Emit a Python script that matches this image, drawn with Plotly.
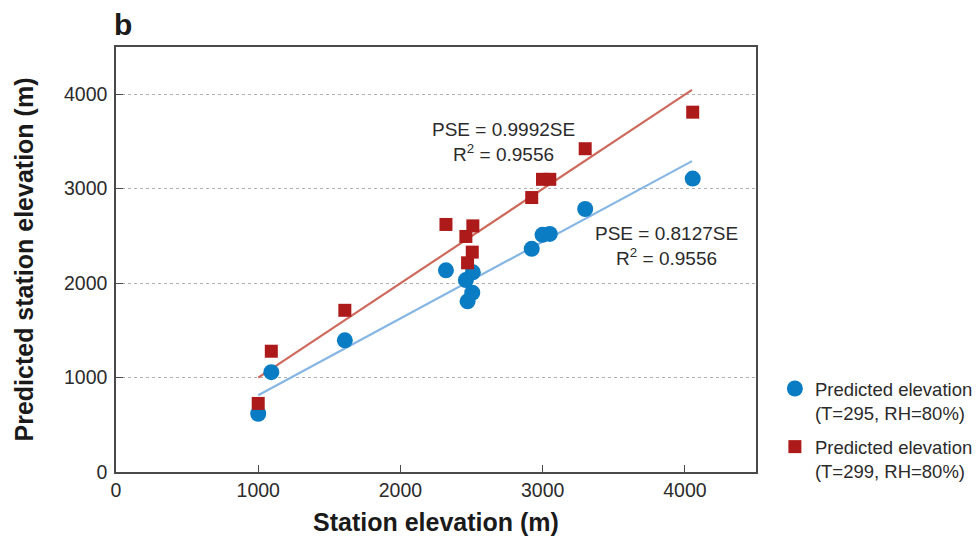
import plotly.graph_objects as go

# Station elevations (m) and predicted elevations for the two model settings
station_elev = [1000, 1092, 1609, 2320, 2460, 2472, 2505, 2509, 2923, 2999, 3050, 3299, 4055]
pred_t295 = [617, 1057, 1394, 2135, 2032, 1807, 1898, 2114, 2363, 2511, 2521, 2785, 3107]
pred_t299 = [726, 1279, 1712, 2621, 2494, 2215, 2328, 2606, 2906, 3099, 3099, 3423, 3810]

# Fitted slopes (through origin) and coefficient of determination
slope_t295 = 0.8127
slope_t299 = 0.9992
r2_t295 = 0.9556
r2_t299 = 0.9556

tick_vals = [0, 1000, 2000, 3000, 4000]
fit_x = [1000, 4050]

FONT = "Liberation Sans, Arial, Helvetica, sans-serif"
TEXT = "#2b2b2b"
AXIS = "#4a4a4a"
TITLE = "#1a1a1a"

fig = go.Figure()

fig.add_trace(go.Scatter(
    x=fit_x, y=[slope_t295 * v for v in fit_x], mode="lines",
    line=dict(color="#86b6e4", width=2.2), showlegend=False, hoverinfo="skip"))
fig.add_trace(go.Scatter(
    x=fit_x, y=[slope_t299 * v for v in fit_x], mode="lines",
    line=dict(color="#cd6a5c", width=2.2), showlegend=False, hoverinfo="skip"))

fig.add_trace(go.Scatter(
    x=station_elev, y=pred_t295, mode="markers", legendgroup="t295",
    name="Predicted elevation<br>(T=295, RH=80%)",
    marker=dict(symbol="circle", size=16, color="#0a7cc4", line=dict(width=0))))
fig.add_trace(go.Scatter(
    x=station_elev, y=pred_t299, mode="markers", legendgroup="t299",
    name="Predicted elevation<br>(T=299, RH=80%)",
    marker=dict(symbol="square", size=13, color="#ad1a1a", line=dict(width=0))))

fig.add_annotation(x=2722, y=3490, xref="x", yref="y", showarrow=False, align="center",
                   text=f"PSE = {slope_t299:.4f}SE<br>R<sup>2</sup> = {r2_t299:.4f}",
                   font=dict(family=FONT, size=19, color=TEXT))
fig.add_annotation(x=3868, y=2392, xref="x", yref="y", showarrow=False, align="center",
                   text=f"PSE = {slope_t295:.4f}SE<br>R<sup>2</sup> = {r2_t295:.4f}",
                   font=dict(family=FONT, size=19, color=TEXT))

# Panel letter
fig.add_annotation(x=0, y=1, xref="paper", yref="paper", xanchor="left", yanchor="bottom",
                   xshift=-4, yshift=4, showarrow=False, text="<b>b</b>",
                   font=dict(family=FONT, size=30, color=TITLE))

# Axis titles
fig.add_annotation(x=0.5, y=0, xref="paper", yref="paper", xanchor="center", yanchor="middle",
                   yshift=-50, showarrow=False, text="<b>Station elevation (m)</b>",
                   font=dict(family=FONT, size=25, color=TITLE))
fig.add_annotation(x=0, y=0.5, xref="paper", yref="paper", xanchor="center", yanchor="middle",
                   xshift=-93, textangle=-90, showarrow=False,
                   text="<b>Predicted station elevation (m)</b>",
                   font=dict(family=FONT, size=25, color=TITLE))

axis_common = dict(
    tickvals=tick_vals, ticks="inside", ticklen=7, tickwidth=1.2, tickcolor=AXIS,
    showline=True, linecolor=AXIS, linewidth=1.5, mirror=True, zeroline=False,
    automargin=False, tickfont=dict(family=FONT, size=19.5, color=TEXT),
)

fig.update_xaxes(range=[0, 4500], showgrid=False, **axis_common)
fig.update_yaxes(range=[0, 4500], showgrid=True, gridcolor="#b0b0b0", griddash="dot", gridwidth=1,
                 ticklabelstandoff=3, **axis_common)

fig.update_layout(
    width=978, height=536,
    margin=dict(l=116, r=222, t=47, b=64, autoexpand=False),
    plot_bgcolor="white", paper_bgcolor="white",
    font=dict(family=FONT, color=TEXT),
    legend=dict(x=1.0295, xanchor="left", y=0.24, yanchor="top", valign="top",
                traceorder="grouped", tracegroupgap=7,
                font=dict(family=FONT, size=18.5, color=TEXT),
                bgcolor="rgba(0,0,0,0)"),
)

fig.write_html("out.html")
